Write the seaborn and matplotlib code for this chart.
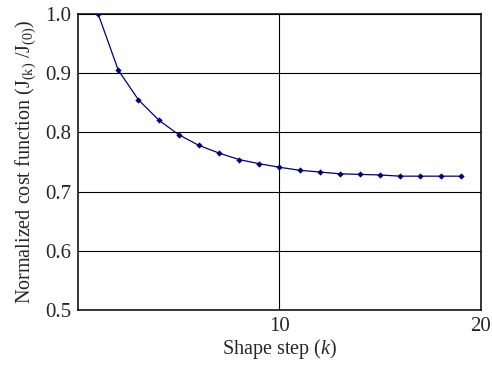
import numpy as np
import pandas as pd
import matplotlib
matplotlib.use('Agg')
import matplotlib.pyplot as plt
import seaborn as sns

# datos
step = list(range(1, 20))
cost = [1.000, 0.905, 0.855, 0.821, 0.796, 0.778, 0.765, 0.754, 0.747, 0.741,
        0.736, 0.733, 0.730, 0.729, 0.728, 0.726, 0.726, 0.726, 0.726]
x_ticks = [10, 20]
y_ticks = [0.5, 0.6, 0.7, 0.8, 0.9, 1.0]

df = pd.DataFrame({'step': step, 'cost': cost})

sns.set_style('white')
plt.rcParams['font.family'] = ['Liberation Serif', 'DejaVu Serif']
plt.rcParams['mathtext.fontset'] = 'custom'
plt.rcParams['mathtext.rm'] = 'Liberation Serif'
plt.rcParams['mathtext.it'] = 'Liberation Serif:italic'

fig = plt.figure(figsize=(4.92, 3.66), dpi=100)
ax = fig.add_axes([0.1585, 0.153, 0.819, 0.809])

sns.lineplot(data=df, x='step', y='cost', ax=ax, color='#000080', linewidth=0.9,
             marker='D', markersize=3.2, markeredgewidth=0, zorder=3)

ax.set_xlim(0, 20)
ax.set_ylim(0.5, 1.0)
ax.set_xticks(x_ticks)
ax.set_yticks(y_ticks)
ax.set_yticklabels([f'{v:.1f}' for v in y_ticks])
ax.tick_params(length=0, labelsize=15, pad=5)
ax.grid(True, color='black', linewidth=0.8)
for s in ax.spines.values():
    s.set_color('black')
    s.set_linewidth(1.1)

ax.set_xlabel(r'Shape step ($k$)', fontsize=14.5, labelpad=1)
ax.set_ylabel(r'Normalized cost function (J$_{\mathrm{(k)}}$ /J$_{\mathrm{(0)}}$)', fontsize=14.5, labelpad=5)

fig.savefig('out.png', dpi=100)
plt.close()
